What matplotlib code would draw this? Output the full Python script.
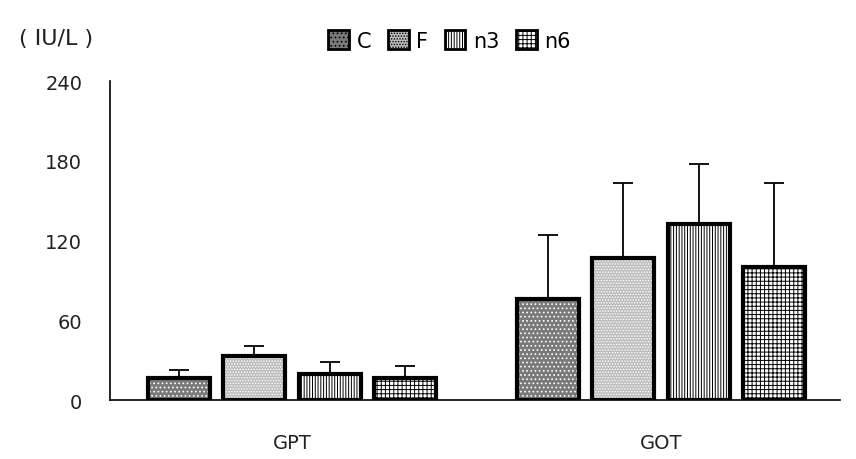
import numpy as np
import matplotlib.pyplot as plt
from matplotlib.patches import Patch

groups = ['GPT', 'GOT']
series = ['C', 'F', 'n3', 'n6']
means = {
    'C':  [16.5, 76],
    'F':  [33, 107],
    'n3': [20, 132.5],
    'n6': [17, 100],
}
errs = {
    'C':  [6.5, 48],
    'F':  [7.5, 56],
    'n3': [9, 45],
    'n6': [8.5, 63],
}

# fill colour, hatch colour, hatch pattern
styles = {
    'C':  ('#7a7a7a', 'white', '....'),
    'F':  ('#bdbdbd', 'white', '......'),
    'n3': ('white', 'black', '||||||'),
    'n6': ('white', 'black', '++++'),
}

plt.rcParams['font.family'] = ['DejaVu Sans']
plt.rcParams['hatch.linewidth'] = 0.7

fig = plt.figure(figsize=(8.56, 4.6), dpi=100)
ax = fig.add_axes([0.1285, 0.128, 0.8525, 0.6937])

x = np.arange(len(groups))
offsets = [-0.307, -0.103, 0.103, 0.307]
width = 0.168

for s, off in zip(series, offsets):
    fc, hc, hatch = styles[s]
    ax.bar(x + off, means[s], width, color=fc, edgecolor=hc, hatch=hatch, linewidth=0, zorder=2)
    ax.bar(x + off, means[s], width, fill=False, edgecolor='black', linewidth=3, zorder=3)
    ax.errorbar(x + off, means[s], yerr=[np.zeros(len(groups)), errs[s]], fmt='none',
                ecolor='black', elinewidth=1.3, capsize=7, capthick=1.3, zorder=1)

ax.set_xlim(-0.493, 1.485)
ax.set_ylim(0, 240)
ax.set_yticks([0, 60, 120, 180, 240])
ax.set_xticks(x)
ax.set_xticklabels(groups)
ax.tick_params(axis='both', length=0, labelsize=14, colors='#222222')
ax.tick_params(axis='y', pad=20)
ax.tick_params(axis='x', pad=24)
for side in ['top', 'right']:
    ax.spines[side].set_visible(False)
ax.spines['left'].set_linewidth(1.2)
ax.spines['bottom'].set_linewidth(1.2)

fig.text(0.022, 0.915, '( IU/L )', fontsize=16, color='#222222', va='center')

handles = []
for s in series:
    fc, hc, hatch = styles[s]
    handles.append(Patch(facecolor=fc, edgecolor='black', hatch=hatch, linewidth=2))
fig.legend(handles, series, loc='center', bbox_to_anchor=(0.525, 0.91), ncol=4, frameon=False,
           fontsize=15, handlelength=1.0, handleheight=1.0, handletextpad=0.35, columnspacing=0.8)

plt.savefig('out.png')
plt.close()
